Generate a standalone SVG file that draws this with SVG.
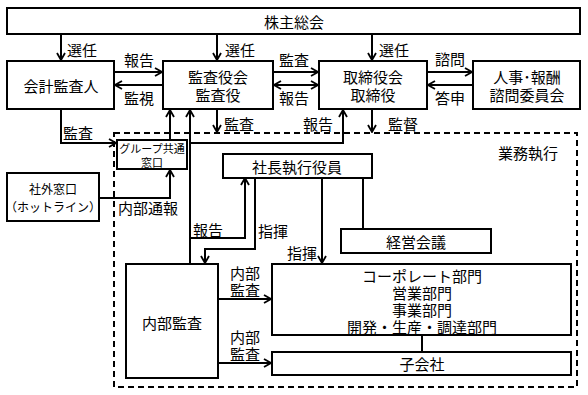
<svg xmlns="http://www.w3.org/2000/svg" width="588" height="395" viewBox="0 0 588 395">
<style>
text{font-family:"Noto Sans CJK JP","Noto Sans CJK SC",sans-serif;fill:#000;dominant-baseline:central}
.b{fill:#fff;stroke:#000;stroke-width:2}
.c{fill:none;stroke:#000;stroke-width:2}
.m{font-size:15px;text-anchor:middle}
.l{font-size:15px}
.s{font-size:12px;text-anchor:middle}
</style>
<defs>
<marker id="a" viewBox="0 0 10 10" refX="9" refY="5" markerWidth="10" markerHeight="10" markerUnits="userSpaceOnUse" orient="auto-start-reverse">
<path d="M2,1 L9,5 L2,9" fill="none" stroke="#000" stroke-width="1.8"/>
</marker>
</defs>
<rect width="588" height="395" fill="#fff"/>
<g id="dashed-area">
<rect x="114" y="133" width="463" height="254" fill="none" stroke="#000" stroke-width="2" stroke-dasharray="6,4"/>
<text class="l" x="498" y="152">業務執行</text>
</g>
<g id="connectors">
<path class="c" d="M61,34 V60" marker-end="url(#a)"/>
<path class="c" d="M217,34 V60" marker-end="url(#a)"/>
<path class="c" d="M372,34 V60" marker-end="url(#a)"/>
<path class="c" d="M114,72 H162" marker-end="url(#a)"/>
<path class="c" d="M163,85 H115" marker-end="url(#a)"/>
<path class="c" d="M273,72 H318" marker-end="url(#a)"/>
<path class="c" d="M274,85 H318" marker-start="url(#a)" marker-end="url(#a)"/>
<path class="c" d="M427,72 H472" marker-end="url(#a)"/>
<path class="c" d="M473,85 H428" marker-end="url(#a)"/>
<path class="c" d="M217,109 V132" marker-end="url(#a)"/>
<path class="c" d="M372,109 V132" marker-end="url(#a)"/>
<path class="c" d="M61,109 V143 H116" marker-end="url(#a)"/>
<path class="c" d="M170,140 V110" marker-end="url(#a)"/>
<path class="c" d="M190,264 V110" marker-end="url(#a)"/>
<path class="c" d="M190,143 H343 V110" marker-end="url(#a)"/>
<path class="c" d="M99,198 H170 V170" marker-end="url(#a)"/>
<path class="c" d="M190,238 H245 V178" marker-end="url(#a)"/>
<path class="c" d="M255,178 V249 H205 V263" marker-end="url(#a)"/>
<path class="c" d="M322,178 V263" marker-end="url(#a)"/>
<path class="c" d="M363,178 V229"/>
<path class="c" d="M218,299 H271" marker-end="url(#a)"/>
<path class="c" d="M218,363 H271" marker-end="url(#a)"/>
<path class="c" d="M422,335 V352"/>
<text class="l" x="67" y="49">選任</text>
<text class="l" x="225" y="49">選任</text>
<text class="l" x="379" y="49">選任</text>
<text class="l" x="124" y="59">報告</text>
<text class="l" x="124" y="97">監視</text>
<text class="l" x="279" y="59">監査</text>
<text class="l" x="279" y="97">報告</text>
<text class="l" x="435" y="58">諮問</text>
<text class="l" x="435" y="97">答申</text>
<text class="l" x="224" y="123">監査</text>
<text class="l" x="388" y="123">監督</text>
<text class="l" x="303" y="123">報告</text>
<text class="l" x="63" y="132">監査</text>
<text class="l" x="118" y="207">内部通報</text>
<text class="l" x="193" y="229">報告</text>
<text class="l" x="258" y="230">指揮</text>
<text class="l" x="287" y="252">指揮</text>
<text class="l" x="230" y="272">内部</text>
<text class="l" x="230" y="289">監査</text>
<text class="l" x="230" y="336">内部</text>
<text class="l" x="230" y="353">監査</text>
</g>
<g id="shareholders">
<rect class="b" x="7" y="8" width="573" height="26"/>
<text class="m" x="294" y="21">株主総会</text>
</g>
<g id="auditor">
<rect class="b" x="7" y="61" width="107" height="48"/>
<text class="m" x="61" y="85">会計監査人</text>
</g>
<g id="audit-board">
<rect class="b" x="163" y="61" width="110" height="48"/>
<text class="m" x="218" y="76">監査役会</text>
<text class="m" x="218" y="94">監査役</text>
</g>
<g id="board">
<rect class="b" x="319" y="61" width="108" height="48"/>
<text class="m" x="373" y="76">取締役会</text>
<text class="m" x="373" y="94">取締役</text>
</g>
<g id="committee">
<rect class="b" x="473" y="61" width="107" height="48"/>
<text class="m" x="527" y="76">人事･報酬</text>
<text class="m" x="527" y="94">諮問委員会</text>
</g>
<g id="group-window">
<rect class="b" x="117" y="140" width="70" height="29"/>
<text class="s" x="152" y="148" style="font-size:11px">グループ共通</text>
<text class="s" x="152" y="162" style="font-size:11px">窓口</text>
</g>
<g id="external-window">
<rect class="b" x="7" y="173" width="92" height="48"/>
<text class="s" x="53" y="188">社外窓口</text>
<text class="s" x="53" y="206">（ホットライン）</text>
</g>
<g id="president">
<rect class="b" x="223" y="154" width="149" height="24"/>
<text class="m" x="297" y="166">社長執行役員</text>
</g>
<g id="management-meeting">
<rect class="b" x="341" y="229" width="150" height="24"/>
<text class="m" x="416" y="241">経営会議</text>
</g>
<g id="internal-audit">
<rect class="b" x="126" y="264" width="92" height="114"/>
<text class="m" x="172" y="322">内部監査</text>
</g>
<g id="departments">
<rect class="b" x="272" y="264" width="299" height="71"/>
<text class="m" x="422" y="275">コーポレート部門</text>
<text class="m" x="422" y="292">営業部門</text>
<text class="m" x="422" y="309">事業部門</text>
<text class="m" x="422" y="326">開発・生産・調達部門</text>
</g>
<g id="subsidiaries">
<rect class="b" x="272" y="352" width="299" height="23"/>
<text class="m" x="422" y="363">子会社</text>
</g>
</svg>
